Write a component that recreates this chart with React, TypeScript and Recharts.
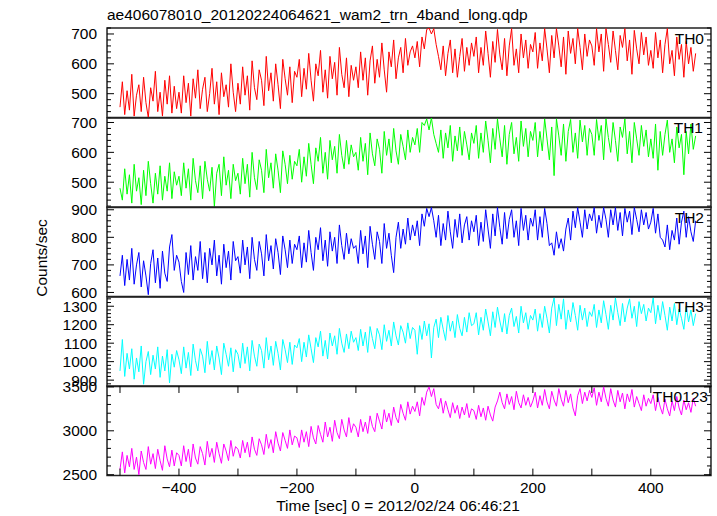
import React from 'react';
import { LineChart, Line, XAxis, YAxis, ReferenceArea } from 'recharts';

// light curve bins: start time and bin width in seconds
const T_START = -500;
const T_STEP = 4;

const TH0 = [
  455, 540, 430, 510, 445, 565, 425, 495, 530, 440, 555, 470, 420, 520, 475, 575, 440, 505, 425, 545, 465, 560, 435, 525, 450,
  505, 435, 560, 470, 535, 425, 550, 485, 580, 450, 515, 555, 440, 500, 585, 465, 540, 430, 570, 490, 530, 455, 600, 505, 440,
  535, 465, 590, 495, 560, 445, 610, 520, 480, 580, 545, 460, 625, 510, 570, 475, 600, 530, 450, 615, 550, 495, 590, 470, 575,
  555, 615, 490, 585, 515, 635, 545, 475, 600, 560, 645, 505, 580, 485, 625, 550, 605, 495, 655, 565, 520, 620, 490, 595, 545,
  590, 520, 640, 545, 620, 495, 610, 660, 535, 615, 555, 670, 580, 505, 640, 590, 680, 550, 620, 655, 570, 685, 595, 640, 660,
  620, 675, 590, 690, 650, 715, 720, 700, 718, 665, 625, 580, 660, 560, 635, 680, 570, 650, 555, 625, 685, 575, 655, 595, 670,
  625, 690, 570, 655, 595, 710, 635, 555, 675, 605, 715, 630, 580, 685, 560, 660, 718, 595, 650, 570, 700, 620, 680, 585, 665,
  640, 705, 585, 670, 610, 718, 650, 570, 695, 620, 718, 660, 590, 690, 565, 710, 635, 685, 600, 718, 655, 580, 700, 625, 680,
  660, 595, 718, 640, 700, 575, 718, 665, 605, 710, 645, 580, 695, 655, 718, 610, 680, 565, 712, 650, 600, 705, 630, 690, 595,
  645, 585, 705, 620, 680, 570, 665, 718, 600, 645, 560, 690, 615, 665, 555, 675, 600, 655, 575, 635,
];

const TH1 = [
  480, 440, 545, 460, 525, 430, 560, 470, 515, 425, 540, 455, 570, 495, 430, 530, 460, 555, 440, 520, 470, 565, 445, 535, 490,
  520, 455, 565, 480, 545, 440, 580, 505, 465, 555, 445, 570, 510, 470, 550, 418, 530, 560, 455, 585, 490, 540, 445, 560, 505,
  530, 460, 580, 495, 560, 450, 600, 515, 475, 575, 540, 465, 610, 515, 565, 480, 595, 540, 465, 605, 560, 495, 590, 510, 570,
  555, 610, 500, 585, 520, 630, 560, 495, 615, 570, 650, 530, 600, 510, 640, 575, 620, 530, 660, 590, 545, 640, 560, 625, 585,
  600, 540, 650, 570, 630, 525, 665, 595, 555, 645, 610, 530, 670, 590, 645, 565, 680, 605, 560, 660, 620, 575, 675, 600, 650,
  625, 680, 600, 700, 690, 712, 675, 715, 660, 630, 600, 675, 580, 665, 615, 690, 570, 655, 605, 685, 590, 670, 625, 575, 665,
  630, 690, 580, 665, 600, 705, 640, 565, 680, 610, 712, 645, 585, 690, 560, 660, 700, 595, 650, 570, 705, 620, 680, 585, 670,
  640, 700, 585, 670, 605, 712, 645, 575, 685, 522, 712, 655, 590, 695, 570, 670, 710, 600, 665, 580, 708, 635, 690, 590, 680,
  660, 590, 710, 640, 690, 575, 712, 650, 600, 700, 640, 570, 685, 650, 712, 595, 670, 565, 700, 645, 590, 690, 620, 675, 585,
  645, 580, 695, 540, 670, 590, 660, 708, 600, 645, 565, 685, 615, 660, 525, 670, 595, 695, 610, 655,
];

const TH2 = [
  660, 735, 625, 720, 645, 760, 630, 700, 745, 620, 715, 660, 592, 705, 755, 635, 725, 615, 750, 670, 640, 765, 810, 680, 735,
  710, 640, 600, 745, 665, 770, 645, 730, 680, 785, 650, 745, 635, 760, 700, 790, 660, 735, 630, 775, 690, 750, 645, 785, 715,
  730, 670, 790, 700, 765, 650, 800, 720, 680, 785, 740, 660, 810, 715, 770, 685, 795, 745, 665, 805, 755, 690, 790, 705, 775,
  755, 805, 690, 780, 710, 825, 745, 680, 800, 755, 835, 715, 790, 695, 820, 750, 800, 705, 845, 770, 720, 815, 740, 795, 760,
  770, 705, 825, 740, 805, 690, 840, 775, 720, 820, 785, 705, 850, 760, 815, 735, 672, 800, 855, 760, 830, 775, 870, 790, 845,
  805, 860, 770, 885, 840, 905, 875, 908, 860, 800, 880, 770, 850, 790, 895, 820, 760, 865, 800, 885, 780, 845, 875, 790, 860,
  820, 880, 770, 855, 785, 900, 830, 760, 885, 805, 908, 835, 775, 890, 795, 865, 900, 800, 860, 770, 905, 825, 880, 790, 870,
  840, 900, 790, 875, 800, 905, 850, 770, 780, 735, 820, 760, 795, 750, 830, 870, 790, 895, 835, 908, 855, 800, 900, 830, 885,
  860, 908, 815, 880, 835, 908, 865, 800, 900, 845, 908, 825, 890, 805, 905, 855, 895, 810, 908, 865, 820, 900, 845, 890, 830,
  855, 905, 815, 885, 800, 790, 765, 845, 755, 825, 790, 870, 775, 855, 895, 800, 875, 820, 785, 860,
];

const TH3 = [
  950, 1120, 920, 1045, 960, 1070, 905, 1020, 945, 1085, 878, 1000, 1055, 930, 1035, 960, 1080, 915, 1030, 950, 1065, 885, 1040, 970, 1060,
  1010, 935, 1080, 965, 1050, 925, 1095, 1005, 950, 1070, 1030, 940, 1110, 985, 1060, 955, 1085, 1020, 930, 1100, 1040, 975, 1075, 945, 1065,
  1040, 965, 1100, 990, 1080, 950, 1115, 1030, 975, 1095, 1060, 965, 1130, 1010, 1085, 980, 1110, 1045, 955, 1120, 1065, 995, 1105, 985, 1090,
  1075, 1125, 1000, 1105, 1025, 1145, 1070, 995, 1130, 1080, 1165, 1030, 1115, 1015, 1155, 1085, 1140, 1040, 1180, 1100, 1050, 1150, 1070, 1165, 1105,
  1130, 1060, 1175, 1085, 1160, 1050, 1190, 1125, 1070, 1180, 1145, 1065, 1200, 1110, 1170, 1085, 1215, 1140, 1090, 1195, 1160, 1100, 1210, 1125, 1185,
  1170, 1040, 1195, 1120, 1220, 1140, 1205, 1020, 1185, 1230, 1130, 1240, 1175, 1115, 1250, 1165, 1220, 1130, 1255, 1180, 1140, 1240, 1160, 1265, 1195,
  1205, 1265, 1145, 1240, 1170, 1285, 1215, 1140, 1270, 1185, 1295, 1220, 1160, 1260, 1150, 1250, 1290, 1190, 1245, 1155, 1300, 1210, 1265, 1175, 1250,
  1225, 1285, 1165, 1260, 1185, 1300, 1235, 1155, 1290, 1345, 1195, 1310, 1230, 1340, 1175, 1280, 1215, 1320, 1250, 1170, 1305, 1225, 1290, 1190, 1270,
  1245, 1310, 1185, 1280, 1210, 1330, 1255, 1175, 1305, 1225, 1345, 1265, 1195, 1315, 1215, 1290, 1340, 1235, 1300, 1190, 1325, 1260, 1310, 1220, 1290,
  1265, 1345, 1205, 1305, 1225, 1325, 1250, 1170, 1295, 1220, 1315, 1200, 1285, 1235, 1175, 1300, 1215, 1280, 1195, 1260,
];

const TH0123 = [
  2560, 2760, 2520, 2720, 2590, 2800, 2560, 2700, 2500, 2770, 2640, 2560, 2820, 2620, 2740, 2570, 2790, 2660, 2550, 2830, 2680, 2590, 2780, 2600, 2750,
  2720, 2600, 2830, 2650, 2790, 2590, 2850, 2690, 2620, 2820, 2740, 2610, 2880, 2700, 2800, 2640, 2870, 2740, 2630, 2850, 2770, 2660, 2890, 2710, 2820,
  2790, 2690, 2890, 2750, 2870, 2700, 2930, 2790, 2720, 2910, 2840, 2730, 2960, 2800, 2900, 2750, 2990, 2860, 2770, 2980, 2890, 2800, 3010, 2840, 2940,
  2920, 2810, 3010, 2870, 2990, 2820, 3050, 2920, 2850, 3060, 2960, 2870, 3100, 2930, 3040, 2880, 3120, 2980, 2910, 3130, 3010, 2930, 3150, 2980, 3080,
  3040, 2930, 3130, 2990, 3100, 2970, 3170, 3050, 2990, 3200, 3110, 3020, 3240, 3100, 3200, 3060, 3270, 3150, 3090, 3300, 3200, 3120, 3330, 3190, 3280,
  3220, 3330, 3170, 3380, 3290, 3440, 3500, 3390, 3480, 3300, 3250, 3370, 3200, 3340, 3240, 3150, 3320, 3200, 3290, 3140, 3270, 3180, 3310, 3150, 3250,
  3230, 3130, 3290, 3160, 3260, 3120, 3280, 3180, 3110, 3270, 3340, 3440, 3320, 3250, 3420, 3300, 3390, 3240, 3450, 3320, 3260, 3410, 3290, 3380, 3270,
  3340, 3440, 3260, 3400, 3290, 3470, 3330, 3250, 3450, 3350, 3280, 3480, 3360, 3280, 3460, 3320, 3420, 3260, 3170, 3400, 3480, 3310, 3440, 3340, 3460,
  3380, 3490, 3290, 3440, 3330, 3500, 3370, 3280, 3480, 3350, 3270, 3460, 3330, 3430, 3250, 3420, 3330, 3470, 3270, 3390, 3310, 3230, 3410, 3280, 3370,
  3310, 3410, 3230, 3380, 3270, 3190, 3360, 3250, 3170, 3340, 3230, 3390, 3260, 3180, 3350, 3240, 3320, 3210, 3370, 3280,
];

const TITLE = 'ae406078010_20120224064621_wam2_trn_4band_long.qdp';
const X_TITLE = 'Time [sec] 0 = 2012/02/24 06:46:21';
const Y_TITLE = 'Counts/sec';

const X_DOMAIN: [number, number] = [-522, 502];
const X_TICKS = [-500, -400, -300, -200, -100, 0, 100, 200, 300, 400, 500];
const X_LABELED = [-400, -200, 0, 200, 400];

const FONT = '"Liberation Sans", Arial, Helvetica, sans-serif';
const FS = 15.5;
const W = 717;
const H = 516;
const PLOT_LEFT = 107;
const PLOT_RIGHT = 711;
const PLOT_W = PLOT_RIGHT - PLOT_LEFT;
const TOP = 28;
const PANEL_H = 89.6;
const PAD = 12;

const panels = [
  { name: 'TH0', values: TH0, color: '#ff0000', domain: [420, 720], major: [500, 600, 700], step: 20, nameX: 704 },
  { name: 'TH1', values: TH1, color: '#00ff00', domain: [415, 715], major: [500, 600, 700], step: 20, nameX: 703 },
  { name: 'TH2', values: TH2, color: '#0000ff', domain: [585, 910], major: [600, 700, 800, 900], step: 20, nameX: 704 },
  { name: 'TH3', values: TH3, color: '#00ffff', domain: [865, 1350], major: [900, 1000, 1100, 1200, 1300], step: 20, nameX: 704 },
  { name: 'TH0123', values: TH0123, color: '#ff00ff', domain: [2490, 3510], major: [2500, 3000, 3500], step: 100, nameX: 708 },
];

const fmt = (v: number) => (v < 0 ? '\u2212' + Math.abs(v) : String(v));

const makeYTick = (major: number[]) => (props: any) => {
  const { x, y, payload } = props;
  const isMajor = major.includes(payload.value);
  const len = isMajor ? 7 : 4;
  return (
    <g>
      <line x1={x} y1={y} x2={x + len} y2={y} stroke="#000" />
      <line x1={x + PLOT_W} y1={y} x2={x + PLOT_W - len} y2={y} stroke="#000" />
      {isMajor && (
        <text x={x - 10} y={y + 5.5} textAnchor="end" fontFamily={FONT} fontSize={FS} fill="#000">
          {payload.value}
        </text>
      )}
    </g>
  );
};

const makeXTick = (labels: boolean) => (props: any) => {
  const { x, y, payload } = props;
  return (
    <g>
      <line x1={x} y1={y} x2={x} y2={y - 7} stroke="#000" />
      <line x1={x} y1={y - PANEL_H} x2={x} y2={y - PANEL_H + 7} stroke="#000" />
      {labels && X_LABELED.includes(payload.value) && (
        <text x={x} y={y + 17} textAnchor="middle" fontFamily={FONT} fontSize={FS} fill="#000">
          {fmt(payload.value)}
        </text>
      )}
    </g>
  );
};

const Panel = ({ p, index, last }: any) => {
  const rows = p.values.map((v: number, i: number) => ({ t: T_START + i * T_STEP, v }));
  const [lo, hi] = p.domain;
  const yTicks: number[] = [];
  for (let v = Math.ceil(lo / p.step) * p.step; v <= hi; v += p.step) yTicks.push(v);
  const xh = last ? 40 : 0;
  return (
    <div style={{ position: 'absolute', left: 0, top: TOP + index * PANEL_H - PAD }}>
      <LineChart
        width={W}
        height={PANEL_H + 2 * PAD + xh}
        data={rows}
        margin={{ top: PAD, right: W - PLOT_RIGHT, bottom: PAD, left: 0 }}
      >
        <XAxis
          dataKey="t"
          type="number"
          domain={X_DOMAIN}
          allowDataOverflow
          ticks={X_TICKS}
          interval={0}
          height={xh}
          tickSize={0}
          tickMargin={0}
          tickLine={false}
          axisLine={false}
          tick={makeXTick(last)}
        />
        <YAxis
          type="number"
          domain={[lo, hi]}
          allowDataOverflow
          ticks={yTicks}
          interval={0}
          width={PLOT_LEFT}
          tickSize={0}
          tickMargin={0}
          tickLine={false}
          axisLine={false}
          tick={makeYTick(p.major)}
        />
        <Line type="linear" dataKey="v" stroke={p.color} strokeWidth={1} dot={false} isAnimationActive={false} />
        <ReferenceArea
          x1={X_DOMAIN[0]}
          x2={X_DOMAIN[1]}
          y1={lo}
          y2={hi}
          fill="none"
          stroke="#222"
          strokeWidth={1.5}
          ifOverflow="visible"
        />
      </LineChart>
    </div>
  );
};

export default function App() {
  return (
    <div style={{ position: 'absolute', left: 0, top: 0, width: W, height: H, background: '#fff' }}>
      {panels.map((p, i) => (
        <Panel key={p.name} p={p} index={i} last={i === panels.length - 1} />
      ))}
      <svg width={W} height={H} style={{ position: 'absolute', left: 0, top: 0, pointerEvents: 'none' }}>
        <g fontFamily={FONT} fontSize={FS} fill="#000">
          <text x={PLOT_LEFT} y={20}>{TITLE}</text>
          <text x={398} y={511} textAnchor="middle">{X_TITLE}</text>
          <text transform="translate(47, 258) rotate(-90)" textAnchor="middle">{Y_TITLE}</text>
          {panels.map((p, i) => (
            <text key={p.name} x={p.nameX} y={TOP + i * PANEL_H + 15.5} textAnchor="end">
              {p.name}
            </text>
          ))}
        </g>
      </svg>
    </div>
  );
}
